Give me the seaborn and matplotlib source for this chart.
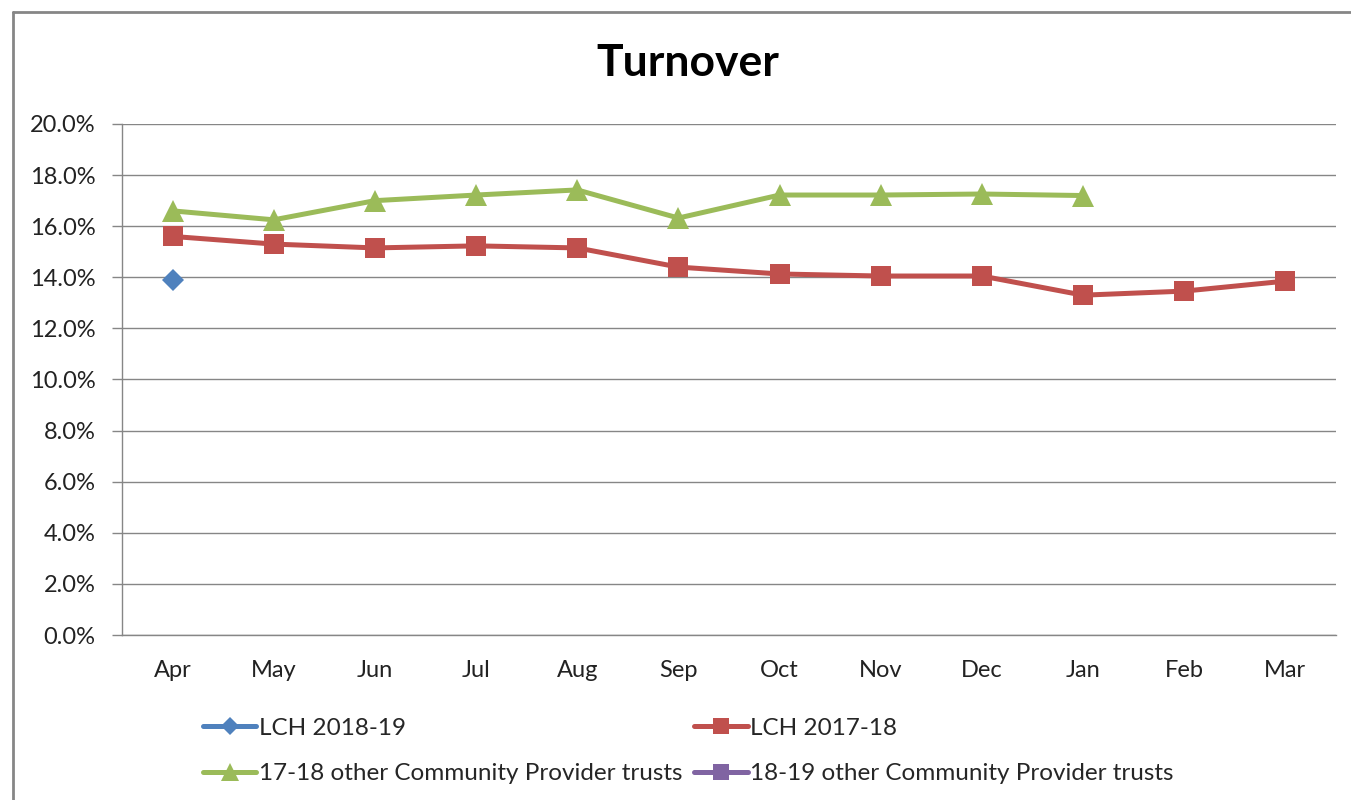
import numpy as np
import pandas as pd
import matplotlib
matplotlib.use("Agg")
import matplotlib.pyplot as plt
from matplotlib.lines import Line2D
import seaborn as sns

# Dados
meses = ["Apr", "May", "Jun", "Jul", "Aug", "Sep", "Oct", "Nov", "Dec", "Jan", "Feb", "Mar"]
lch_2018_19 = [13.9] + [np.nan] * 11
lch_2017_18 = [15.6, 15.3, 15.15, 15.23, 15.15, 14.4, 14.13, 14.05, 14.05, 13.3, 13.46, 13.85]
outros_17_18 = [16.6, 16.25, 17.0, 17.22, 17.42, 16.32, 17.22, 17.22, 17.26, 17.2, np.nan, np.nan]
outros_18_19 = [np.nan] * 12
y_ticks = [0, 2, 4, 6, 8, 10, 12, 14, 16, 18, 20]

sns.set_style("white")
plt.rcParams['font.family'] = ['Lato', 'DejaVu Sans']

df = pd.DataFrame({
    "pos": np.arange(len(meses)),
    "LCH 2018-19": lch_2018_19,
    "LCH 2017-18": lch_2017_18,
    "17-18 other Community Provider trusts": outros_17_18,
    "18-19 other Community Provider trusts": outros_18_19,
})

fig = plt.figure(figsize=(13.51, 8), dpi=100)
ax = fig.add_axes([122 / 1351, 1 - 635 / 800, (1336 - 122) / 1351, (635 - 124) / 800])

estilos = {
    "LCH 2018-19": dict(color="#4F81BD", marker="D", markersize=11),
    "LCH 2017-18": dict(color="#C0504D", marker="s", markersize=14),
    "17-18 other Community Provider trusts": dict(color="#9BBB59", marker="^", markersize=16),
    "18-19 other Community Provider trusts": dict(color="#8064A2", marker="s", markersize=14),
}

handles = {}
for nome, st in estilos.items():
    if df[nome].notna().any():
        sns.lineplot(data=df, x="pos", y=nome, ax=ax, color=st["color"], marker=st["marker"],
                     markersize=st["markersize"], markeredgewidth=0, linewidth=3.6)
    handles[nome] = Line2D([], [], color=st["color"], marker=st["marker"],
                           markersize=st["markersize"] * 0.8, markeredgewidth=0, linewidth=3.6)

ax.set_xlim(-0.5, len(meses) - 0.5)
ax.set_ylim(0, 20)
ax.set_yticks(y_ticks)
ax.set_yticklabels([f"{v:.1f}%" for v in y_ticks], fontsize=17, color="#222222")
ax.set_xticks(np.arange(len(meses)))
ax.set_xticklabels(meses, fontsize=17, color="#222222")
ax.set_xticks(np.arange(len(meses) + 1) - 0.5, minor=True)
ax.tick_params(axis="x", which="major", length=0, pad=18)
ax.tick_params(axis="x", which="minor", length=9, width=1, color="#868686", direction="out")
ax.tick_params(axis="y", length=7, width=1, color="#868686", direction="out", pad=12, left=True)
ax.set_xlabel("")
ax.set_ylabel("")
ax.grid(axis="y", color="#868686", linewidth=1)
ax.set_axisbelow(True)
for lado in ["top", "right"]:
    ax.spines[lado].set_visible(False)
for lado in ["left", "bottom"]:
    ax.spines[lado].set_color("#868686")
    ax.spines[lado].set_linewidth(1)

fig.text(688 / 1351, 1 - 63 / 800, "Turnover", ha="center", va="center",
         fontsize=32, fontweight="bold", color="#000000")

ordem = ["LCH 2018-19", "17-18 other Community Provider trusts",
         "LCH 2017-18", "18-19 other Community Provider trusts"]
fig.legend([handles[n] for n in ordem], ordem, ncol=2, loc="upper left",
           bbox_to_anchor=(181 / 1351, 1 - 696 / 800), frameon=False, fontsize=17.5,
           handlelength=2.2, handletextpad=0.1, columnspacing=0.5, labelspacing=1.0)

# borda do gráfico
fig.add_artist(Line2D([13 / 1351, 13 / 1351], [0, 1 - 12 / 800], color="#868686", linewidth=2,
                      transform=fig.transFigure))
fig.add_artist(Line2D([13 / 1351, 1], [1 - 12 / 800, 1 - 12 / 800], color="#868686", linewidth=2,
                      transform=fig.transFigure))

plt.savefig("out.png", dpi=100)
plt.close()
